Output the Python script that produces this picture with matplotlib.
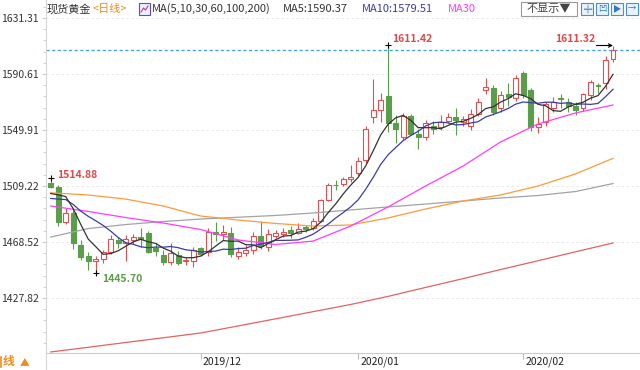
import numpy as np
import pandas as pd
import matplotlib
matplotlib.use('Agg')
import matplotlib.pyplot as plt
from matplotlib.patches import Rectangle
from matplotlib.lines import Line2D
from matplotlib.ticker import AutoMinorLocator

plt.rcParams['font.family'] = ['Noto Sans CJK SC', 'DejaVu Sans']

# Daily candles, 2019-11-04 .. 2020-02-19 (one entry per trading day)
opens = [1511.6, 1508.7, 1482.8, 1489.6, 1466.3, 1458.3, 1455.0, 1455.9, 1461.5, 1470.0,
         1468.0, 1470.0, 1472.5, 1474.8, 1463.8, 1459.0, 1454.2, 1459.0, 1454.6, 1455.0,
         1464.0, 1461.0, 1476.0, 1474.0, 1475.0, 1458.5, 1460.5, 1463.0, 1473.0, 1465.0,
         1473.0, 1474.0, 1477.0, 1475.0, 1479.6, 1479.0, 1484.0, 1499.0, 1510.3, 1510.7,
         1514.0, 1518.7, 1528.0, 1559.6, 1564.4, 1574.6, 1555.0, 1545.0, 1560.0, 1546.8,
         1545.0, 1553.0, 1552.0, 1556.7, 1559.6, 1556.0, 1553.0, 1561.5, 1579.0, 1580.2,
         1565.7, 1576.0, 1573.0, 1591.0, 1579.0, 1552.0, 1556.0, 1566.0, 1573.5, 1570.0,
         1567.0, 1566.0, 1575.0, 1582.6, 1583.8, 1601.5]
highs = [1514.88, 1510.0, 1493.2, 1492.0, 1470.0, 1461.5, 1458.0, 1463.0, 1473.6, 1472.4,
         1473.6, 1474.0, 1478.7, 1476.5, 1467.5, 1462.5, 1467.8, 1462.0, 1457.5, 1464.8,
         1465.0, 1479.0, 1483.0, 1481.0, 1479.6, 1465.0, 1466.0, 1476.0, 1484.0, 1478.0,
         1477.5, 1479.0, 1480.0, 1482.0, 1481.0, 1486.0, 1499.5, 1511.5, 1513.5, 1516.0,
         1524.5, 1530.0, 1553.0, 1587.0, 1577.0, 1611.42, 1560.8, 1562.0, 1561.5, 1551.0,
         1557.0, 1556.5, 1561.0, 1562.5, 1566.0, 1560.0, 1565.0, 1573.0, 1587.7, 1582.6,
         1578.0, 1584.0, 1590.0, 1592.5, 1580.5, 1559.0, 1570.5, 1574.0, 1576.0, 1573.0,
         1570.0, 1577.0, 1586.0, 1584.0, 1604.0, 1611.32]
lows = [1507.5, 1480.0, 1481.5, 1463.5, 1455.4, 1448.0, 1445.70, 1453.5, 1460.0, 1464.5,
        1455.0, 1467.0, 1465.0, 1460.5, 1458.5, 1451.5, 1451.8, 1451.5, 1452.0, 1450.5,
        1458.0, 1458.5, 1469.0, 1470.0, 1457.5, 1456.0, 1458.5, 1460.0, 1463.5, 1462.0,
        1471.5, 1472.5, 1471.5, 1474.0, 1476.0, 1477.0, 1483.0, 1498.5, 1506.0, 1509.0,
        1512.0, 1516.5, 1526.0, 1555.0, 1556.0, 1548.7, 1540.5, 1542.5, 1546.0, 1536.0,
        1543.0, 1547.0, 1550.0, 1555.0, 1546.0, 1553.0, 1550.0, 1560.0, 1576.0, 1560.8,
        1563.0, 1567.0, 1571.0, 1573.0, 1549.0, 1548.0, 1553.0, 1563.0, 1566.0, 1563.0,
        1561.0, 1564.0, 1572.0, 1577.0, 1580.0, 1599.0]
closes = [1508.7, 1483.3, 1489.6, 1467.8, 1457.6, 1454.9, 1455.9, 1461.5, 1470.7, 1467.8,
          1471.0, 1472.0, 1471.0, 1461.5, 1462.0, 1454.2, 1460.5, 1453.3, 1455.2, 1462.4,
          1460.0, 1476.0, 1474.0, 1475.5, 1459.5, 1461.0, 1463.0, 1473.0, 1465.5, 1474.5,
          1475.0, 1476.0, 1475.0, 1478.0, 1478.0, 1484.0, 1499.0, 1510.0, 1509.8, 1514.0,
          1516.0, 1527.6, 1551.0, 1564.4, 1572.0, 1555.2, 1551.0, 1560.0, 1547.0, 1545.0,
          1555.0, 1551.0, 1556.0, 1559.0, 1557.0, 1558.0, 1561.5, 1570.0, 1580.9, 1563.2,
          1575.3, 1574.0, 1587.7, 1575.0, 1552.0, 1554.0, 1569.0, 1570.0, 1572.5, 1567.5,
          1564.25, 1576.0, 1585.0, 1581.85, 1601.0, 1608.0]
# last closes before the window, needed for the MA5 / MA10 start
prior_closes = [1488, 1493, 1504, 1505, 1493, 1488, 1496, 1512, 1514]

# long averages
ma_idx = list(range(0, 76, 5))
ma30 = [1494.7, 1490.7, 1486.3, 1482.3, 1477.6, 1470.0, 1466.7, 1469.2,
        1480.1, 1494.0, 1509.2, 1523.7, 1541.2, 1554.3, 1562.3, 1568.1]
ma60 = [1504.3, 1502.7, 1499.7, 1494.7, 1487.4, 1484.5, 1482.0, 1480.1,
        1480.9, 1486.0, 1492.5, 1498.3, 1502.7, 1509.2, 1518.0, 1529.3]
ma100 = [1472.1, 1478.3, 1481.2, 1483.4, 1485.2, 1486.5, 1487.8, 1489.6,
         1491.8, 1494.0, 1496.1, 1498.3, 1500.5, 1502.3, 1505.2, 1511.0]
ma200 = [1388.6, 1392.0, 1395.5, 1398.9, 1402.4, 1407.5, 1412.7, 1417.9,
         1423.1, 1429.0, 1435.5, 1441.9, 1448.5, 1454.9, 1461.4, 1467.8]

month_idx = [20, 41, 63]
month_labels = ['2019/12', '2020/01', '2020/02']
yticks = [1631.31, 1590.61, 1549.91, 1509.22, 1468.52, 1427.82]

UP = '#e34f4f'
DOWN = '#5a9e4b'
W, H = 640, 370


def px(x, y):
    return x / W, 1 - y / H


df = pd.DataFrame({'open': opens, 'high': highs, 'low': lows, 'close': closes})
full = pd.Series(prior_closes + closes)
ma5 = full.rolling(5).mean().iloc[len(prior_closes):].values
ma10 = full.rolling(10).mean().iloc[len(prior_closes):].values
x = np.arange(len(df))

fig = plt.figure(figsize=(W / 100, H / 100), dpi=100)
ax = fig.add_axes([46 / W, 17 / H, 594 / W, 353 / H])

# candles
up = df['close'] >= df['open']
colors = np.where(up, UP, DOWN)
ax.vlines(x, df['low'], df['high'], colors=colors, lw=0.8, zorder=2)
body_lo = np.minimum(df['open'], df['close'])
body_h = np.maximum((df['close'] - df['open']).abs(), 0.4)
ax.bar(x, body_h, bottom=body_lo, width=0.66,
       facecolor=np.where(up, 'white', DOWN), edgecolor=colors, lw=0.8, zorder=3)

# moving averages
ax.plot(ma_idx, ma200, color='#e46262', lw=0.9, zorder=4)
ax.plot(ma_idx, ma100, color='#a3a3a3', lw=0.9, zorder=4)
ax.plot(ma_idx, ma60, color='#ff9a3c', lw=0.9, zorder=4)
ax.plot(ma_idx, ma30, color='#ff3cff', lw=0.9, zorder=4)
ax.plot(x, ma10, color='#3c3ca8', lw=0.9, zorder=5)
ax.plot(x, ma5, color='#333333', lw=0.9, zorder=5)

# last price line
ax.axhline(closes[-1], color='#3d9cf5', ls=(0, (2.5, 2)), lw=0.9, zorder=1)

# high / low markers
i_hi_left = 0
i_lo = int(np.argmin(lows))
i_hi = int(np.argmax(highs))
i_last = len(x) - 1
ax.plot(i_hi_left, highs[i_hi_left], marker='+', color='black', ms=5, mew=0.8, zorder=6)
ax.plot(i_lo, lows[i_lo], marker='+', color='black', ms=5, mew=0.8, zorder=6)
ax.plot(i_hi, highs[i_hi], marker='+', color='black', ms=5, mew=0.8, zorder=6)
ax.annotate('', xy=(i_last, highs[i_last]), xytext=(i_last - 2.2, highs[i_last]),
            arrowprops=dict(arrowstyle='->', color='black', lw=0.8, shrinkA=0, shrinkB=0,
                            mutation_scale=6), zorder=6)
lab = dict(fontsize=7.5, fontweight='bold', textcoords='offset points', va='center')
ax.annotate(f'{highs[i_hi_left]:.2f}', (i_hi_left, highs[i_hi_left]), xytext=(4.3, 2.5),
            color='#e04848', ha='left', **lab)
ax.annotate(f'{lows[i_lo]:.2f}', (i_lo, lows[i_lo]), xytext=(4.3, -4.3),
            color=DOWN, ha='left', **lab)
ax.annotate(f'{highs[i_hi]:.2f}', (i_hi, highs[i_hi]), xytext=(2.9, 4.5),
            color='#e04848', ha='left', **lab)
ax.annotate(f'{highs[i_last]:.2f}', (i_last, highs[i_last]), xytext=(-13, 4.5),
            color='#e04848', ha='right', **lab)

# axes styling
ax.set_xlim(-0.63, 78.6)
ax.set_ylim(1387.85, 1644.39)
ax.set_yticks(yticks, [f'{v:.2f}' for v in yticks])
ax.yaxis.set_minor_locator(AutoMinorLocator(5))
ax.tick_params(axis='y', which='major', labelsize=7.5, labelcolor='#333333',
               color='#cccccc', length=3, pad=2)
ax.tick_params(axis='y', which='minor', color='#cccccc', length=2)
ax.set_xticks(month_idx)
ax.tick_params(axis='x', labelbottom=False, color='#bbbbbb', length=4)
for i, lbl in zip(month_idx, month_labels):
    ax.text(i + 0.3, -0.026, lbl, transform=ax.get_xaxis_transform(), fontsize=7.5,
            color='#222222', ha='left', va='center')
ax.grid(axis='y', color='#e4e4e4', ls=(0, (3, 3)), lw=0.6)
for s in ['top', 'right']:
    ax.spines[s].set_visible(False)
ax.spines['left'].set_color('#d6d6d6')
ax.spines['bottom'].set_color('#cccccc')
ax.set_facecolor('none')
fig.add_artist(Line2D([46 / W, 46 / W], [0, 17 / H], color='#d6d6d6', lw=0.8))

# header line
ty = 9
fig.text(*px(47, ty), '现货黄金', fontsize=8, color='#333333', va='center')
fig.text(*px(93, ty), '<日线>', fontsize=8, color='#f08c1e', va='center')
fig.add_artist(Rectangle(px(139, 15), 11 / W, 12 / H, transform=fig.transFigure,
                         facecolor='#eef0ff', edgecolor='#5b4fc9', lw=0.8))
fig.add_artist(Line2D(np.array([141, 143.5, 145.5, 148]) / W,
                      1 - np.array([12, 8, 10, 6]) / H, color='#c03a9a', lw=0.8))
fig.text(*px(152, ty), 'MA(5,10,30,60,100,200)', fontsize=8, color='#333333', va='center')
fig.text(*px(283, ty), f'MA5:{ma5[-1]:.2f}', fontsize=8, color='#333333', va='center')
fig.text(*px(362, ty), f'MA10:{ma10[-1]:.2f}', fontsize=8, color='#3c3ca8', va='center')
fig.text(*px(448, ty), 'MA30', fontsize=8, color='#ff3cff', va='center')

# top-right controls
fig.add_artist(Rectangle(px(521, 16), 56 / W, 14 / H, transform=fig.transFigure,
                         facecolor='white', edgecolor='#9a9a9a', lw=0.8))
fig.text(*px(549, ty), '不显示▼', fontsize=8, color='#444444', va='center', ha='center')
for k, g in enumerate(['╬', '凹', '▶', '→']):
    x0 = 581 + k * 15
    fig.add_artist(Rectangle(px(x0, 15), 12 / W, 12 / H, transform=fig.transFigure,
                             facecolor='#eaf3fc', edgecolor='#4a8fd6', lw=0.8))
    fig.text(*px(x0 + 6, ty), g, fontsize=6, color='#2f78c4', va='center', ha='center')

# bottom-left period switch (the leading character is cut by the frame in the source)
fig.add_artist(Line2D([1 / W, 1 / W], [1 - 367 / H, 1 - 357 / H], color='#f08c1e', lw=1.2))
fig.text(*px(3, 362), '线', fontsize=8.5, fontweight='bold', color='#f08c1e',
         ha='left', va='center')
fig.text(*px(20, 362), '▲', fontsize=7, color='#f08c1e', ha='left', va='center')

fig.savefig('out.png', dpi=100)
